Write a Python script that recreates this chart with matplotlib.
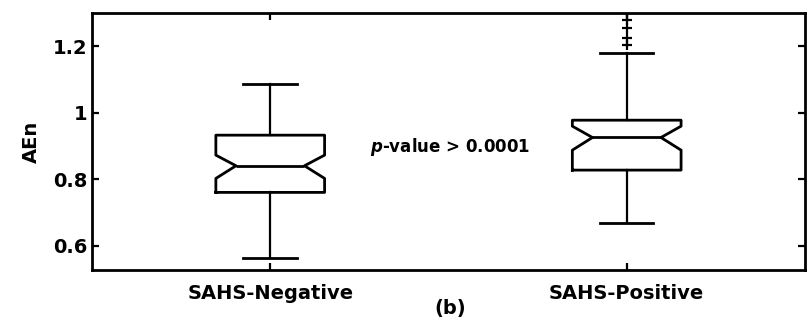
import matplotlib
matplotlib.use("Agg")
import matplotlib.pyplot as plt
import numpy as np

plt.rcParams['font.family'] = ['DejaVu Sans']
plt.rcParams['mathtext.fontset'] = 'dejavusans'

groups = ["SAHS-Negative", "SAHS-Positive"]
q1 = [0.761, 0.828]
med = [0.841, 0.926]
q3 = [0.933, 0.978]
whislo = [0.565, 0.670]
whishi = [1.088, 1.181]
cilo = [0.803, 0.888]
cihi = [0.873, 0.960]
fliers = [[], [1.203, 1.224, 1.254, 1.28, 1.30]]
yticks = [0.6, 0.8, 1.0, 1.2]
yticklabels = ["0.6", "0.8", "1", "1.2"]
ylabel = "AEn"
annotation = r"$\mathbfit{p}$-value > 0.0001"
panel = "(b)"

stats = []
for i, g in enumerate(groups):
    stats.append(dict(label=g, q1=q1[i], med=med[i], q3=q3[i],
                      whislo=whislo[i], whishi=whishi[i],
                      cilo=cilo[i], cihi=cihi[i], fliers=fliers[i]))

fig = plt.figure(figsize=(8.09, 3.26), dpi=100)
ax = fig.add_axes([0.1137, 0.172, 0.995 - 0.1137, 0.960 - 0.172])

positions = [1, 2]
width = 0.305
lw = 2.0
res = ax.bxp(stats, positions=positions, widths=width, capwidths=0.15,
             shownotches=True,
             boxprops=dict(color='black', linewidth=lw),
             whiskerprops=dict(color='black', linewidth=1.6, linestyle='-'),
             capprops=dict(color='black', linewidth=lw),
             medianprops=dict(color='black', linewidth=lw),
             flierprops=dict(marker='+', markeredgecolor='black', markersize=7,
                             markeredgewidth=1.6, linestyle='none'))

# narrower notch waist (MATLAB style)
waist = 0.63 * width / 2
for pos, box, median in zip(positions, res['boxes'], res['medians']):
    for line in (box, median):
        x = np.asarray(line.get_xdata(), dtype=float)
        m = np.isclose(np.abs(x - pos), width / 4)
        x[m] = pos + np.sign(x[m] - pos) * waist
        line.set_xdata(x)

ax.set_xlim(0.5, 2.5)
ax.set_ylim(0.528, 1.30)
ax.set_yticks(yticks)
ax.set_yticklabels(yticklabels)
ax.set_xticks(positions)
ax.set_xticklabels(groups)
ax.tick_params(direction='in', length=5, width=1.6, top=True, right=True,
               labelsize=14)
for lab in ax.get_xticklabels() + ax.get_yticklabels():
    lab.set_fontweight('bold')
ax.tick_params(axis='x', pad=10)
for s in ax.spines.values():
    s.set_linewidth(2.0)

ax.set_ylabel(ylabel, fontsize=14, fontweight='bold', labelpad=8)

ax.text(1.28, 0.897, annotation, ha='left', va='center', fontsize=12,
        fontweight='bold')
ax.text(0.556, 0.055, panel, transform=fig.transFigure, ha='center',
        va='center', fontsize=14, fontweight='bold')

fig.savefig("out.png", dpi=100)
